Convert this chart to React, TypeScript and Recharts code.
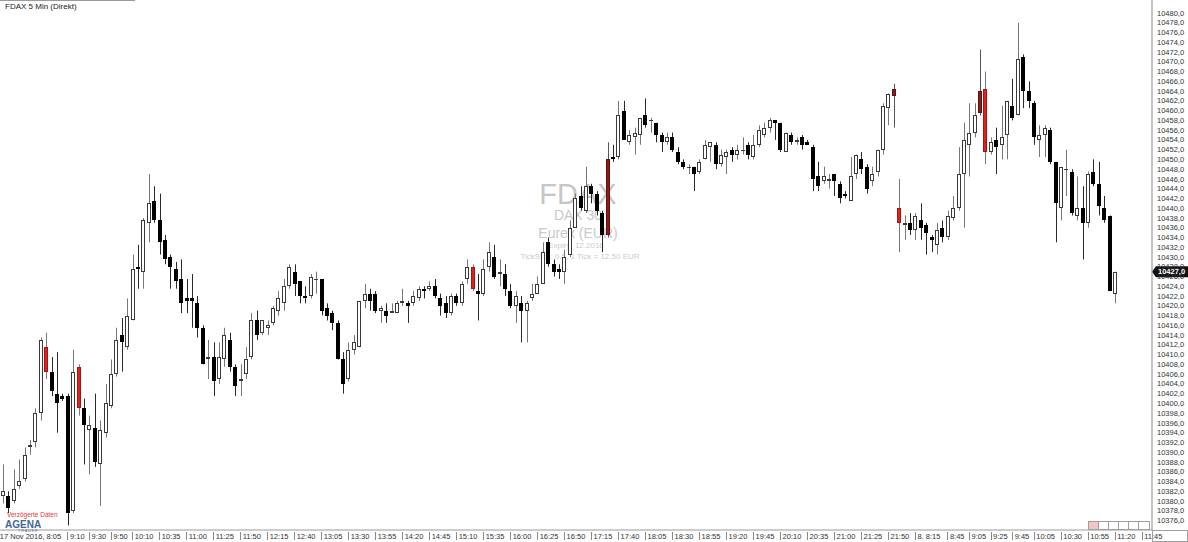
import React from "react";
import { Bar, ComposedChart, ReferenceLine, XAxis, YAxis } from "recharts";

// FDAX 5-minute candles, 17/18 Nov 2016 (slot 1 = 8:10)
const opens = [
  10381, 10381, 10380, 10383, 10384.5, 10391, 10392, 10398, 10411.5, 10406.5,
  10402, 10401.5, 10401.5, 10378, 10407.5, 10399, 10394.5, 10395, 10387.5, 10394,
  10399.5, 10406, 10414, 10411.5, 10417, 10428, 10427, 10437, 10441.5, 10437.5,
  10433.5, 10430, 10427.5, 10425.5, 10421.5, 10421.5, 10420.5, 10415.5, 10409, 10409.5,
  10405, 10409, 10413, 10407.5, 10404.5, 10406, 10409.5, 10417, 10414.5, 10415.5,
  10416.5, 10419, 10420.5, 10424, 10427, 10425, 10422, 10422, 10425.5, 10425.5,
  10419.5, 10418.5, 10416.5, 10409, 10405, 10411, 10411.5, 10421, 10422.5, 10422.5,
  10419, 10419, 10418.5, 10418.5, 10420.5, 10420.5, 10420.5, 10421.5, 10423.5, 10423.5,
  10424, 10421.5, 10420.5, 10418.5, 10422, 10420.5, 10425.5, 10428, 10423, 10422.5,
  10428, 10430, 10426.5, 10426.5, 10423, 10420, 10420.5, 10419, 10421.5, 10422.5,
  10424.5, 10433, 10428.5, 10427.5, 10427, 10430.5, 10436, 10442.5, 10439.5, 10444.5,
  10443, 10439, 10450, 10450.5, 10450.5, 10460, 10453.5, 10454.5, 10455, 10459,
  10458, 10457.5, 10455, 10453.5, 10454.5, 10451.5, 10449.5, 10448.5, 10448.5, 10447.5,
  10450, 10452.5, 10453, 10449, 10450.5, 10452, 10451, 10452, 10453, 10450.5,
  10453, 10455, 10456.5, 10458, 10457.5, 10451.5, 10455, 10453.5, 10454.5, 10453.5,
  10452.5, 10446.5, 10445.5, 10445.5, 10447, 10445, 10443, 10441.5, 10447, 10450,
  10448.5, 10445.5, 10447.5, 10452, 10460.5, 10464.5, 10440, 10436.5, 10437, 10435.5,
  10437.5, 10436.5, 10434, 10432.5, 10436, 10434, 10438, 10440, 10447, 10453,
  10455.5, 10464, 10464.5, 10451.5, 10454, 10453, 10455, 10461, 10459, 10471,
  10464, 10461.5, 10454, 10455, 10456, 10449.5, 10440, 10448, 10447.5, 10438.5,
  10440, 10437, 10447.5, 10445, 10440, 10438.5, 10422.5,
];

const highs = [
  10387.5, 10382, 10386.5, 10388.5, 10391, 10392.5, 10399, 10413.5, 10414.5, 10409.5,
  10410.5, 10402, 10402, 10411, 10408, 10401, 10397.5, 10402, 10396.5, 10404,
  10409, 10415.5, 10417.5, 10421.5, 10430.5, 10432.5, 10438, 10447, 10444.5, 10443,
  10434.5, 10430.5, 10429, 10429.5, 10425.5, 10426.5, 10422, 10416, 10413, 10412.5,
  10412.5, 10415.5, 10414.5, 10408, 10408, 10411.5, 10418.5, 10419, 10417, 10417,
  10420, 10423, 10425.5, 10428.5, 10428.5, 10425, 10424, 10426.5, 10427, 10425.5,
  10420.5, 10419, 10417, 10410.5, 10412.5, 10414, 10421, 10424.5, 10423.5, 10423,
  10420, 10420.5, 10420.5, 10421, 10423.5, 10421, 10423, 10424, 10424, 10425,
  10425.5, 10422.5, 10422, 10422.5, 10422.5, 10425, 10429.5, 10428.5, 10426.5, 10429.5,
  10433, 10432.5, 10429.5, 10428.5, 10424.5, 10423, 10422, 10421, 10424.5, 10426,
  10433, 10434, 10429.5, 10428.5, 10431.5, 10437.5, 10443, 10444.5, 10448.5, 10445,
  10443.5, 10439.5, 10453.5, 10453, 10462, 10462, 10456, 10456.5, 10458.5, 10462.5,
  10458.5, 10457.5, 10455.5, 10455.5, 10455.5, 10452.5, 10450, 10449, 10448.5, 10450,
  10454, 10453.5, 10453.5, 10452, 10452, 10452.5, 10453, 10454.5, 10453.5, 10455,
  10457, 10457.5, 10458.5, 10458, 10457.5, 10455.5, 10455.5, 10454.5, 10455, 10454,
  10453, 10449.5, 10448.5, 10447, 10447, 10445.5, 10443.5, 10450.5, 10451, 10451.5,
  10449, 10448.5, 10452, 10461.5, 10463.5, 10465.5, 10446, 10438.5, 10439, 10439,
  10441, 10437, 10434.5, 10437, 10437.5, 10439.5, 10442.5, 10452.5, 10457.5, 10461.5,
  10461.5, 10472.5, 10468, 10454.5, 10456.5, 10461, 10462, 10466.5, 10478, 10471.5,
  10466, 10462, 10457, 10457, 10456.5, 10449.5, 10448.5, 10452, 10448, 10446.5,
  10444.5, 10447.5, 10450, 10449.5, 10442.5, 10438.5, 10427,
];

const lows = [
  10379.5, 10377.5, 10379.5, 10382.5, 10384, 10389.5, 10391, 10396.5, 10405, 10401.5,
  10394, 10400.5, 10375, 10377.5, 10397.5, 10387.5, 10385.5, 10387, 10379, 10393,
  10399, 10405.5, 10406.5, 10411, 10417, 10423.5, 10423.5, 10433, 10437, 10430.5,
  10428.5, 10423.5, 10423.5, 10418.5, 10418.5, 10415.5, 10413.5, 10408, 10405, 10401.5,
  10404, 10407.5, 10406.5, 10401.5, 10401.5, 10405, 10409, 10413, 10414, 10414,
  10416, 10418, 10419, 10423.5, 10422, 10420.5, 10420.5, 10421.5, 10422.5, 10418,
  10417, 10415, 10409, 10402, 10404.5, 10410, 10411.5, 10419.5, 10419, 10418.5,
  10416.5, 10416.5, 10418.5, 10418.5, 10420, 10416.5, 10420, 10421, 10421.5, 10423,
  10421.5, 10418, 10417.5, 10418, 10420, 10420, 10424.5, 10423, 10417, 10422,
  10427, 10425.5, 10424, 10422, 10419.5, 10416.5, 10412.5, 10412.5, 10421, 10422.5,
  10424.5, 10428, 10426, 10425.5, 10424.5, 10430, 10436, 10439.5, 10439, 10441,
  10438.5, 10431, 10434, 10449.5, 10450, 10454, 10453, 10451, 10453, 10456.5,
  10455.5, 10453.5, 10451.5, 10453, 10451.5, 10449, 10448, 10447, 10443.5, 10447,
  10450, 10449.5, 10448, 10448.5, 10447, 10449.5, 10450, 10451, 10450, 10450,
  10452.5, 10454.5, 10455.5, 10454, 10451.5, 10451.5, 10453, 10453, 10452, 10453,
  10443.5, 10443.5, 10445, 10444, 10442.5, 10441, 10442, 10441.5, 10446, 10447,
  10443, 10444.5, 10446.5, 10451, 10457, 10456.5, 10431, 10433.5, 10434.5, 10433.5,
  10433.5, 10430.5, 10431, 10430.5, 10433, 10433.5, 10437.5, 10439.5, 10436, 10446.5,
  10454.5, 10459, 10449, 10451, 10447, 10450, 10450, 10458, 10459, 10460.5,
  10460.5, 10453, 10450.5, 10450.5, 10449, 10433, 10437.5, 10442.5, 10438.5, 10437.5,
  10429.5, 10436, 10444.5, 10438.5, 10437, 10423, 10420.5,
];

const closes = [
  10382, 10378.5, 10382.5, 10384, 10389.5, 10391.5, 10398, 10413, 10406.5, 10402.5,
  10400, 10401, 10377.5, 10406.5, 10399, 10395.5, 10395.5, 10388, 10394.5, 10400,
  10406, 10413, 10412.5, 10418, 10427.5, 10427.5, 10437.5, 10441, 10437.5, 10433,
  10429.5, 10428, 10425, 10420.5, 10421, 10421, 10415.5, 10408, 10409.5, 10404.5,
  10409.5, 10414, 10407.5, 10403.5, 10405, 10409, 10417, 10414, 10417, 10416,
  10419.5, 10421.5, 10424, 10428, 10424.5, 10422, 10421.5, 10426, 10425.5, 10419,
  10418, 10416.5, 10409, 10404, 10411, 10412.5, 10421, 10422.5, 10421, 10419,
  10419.5, 10418, 10419, 10420.5, 10421, 10420, 10422, 10423.5, 10423, 10424,
  10422, 10420, 10418.5, 10422, 10420.5, 10424.5, 10428, 10423.5, 10422.5, 10427.5,
  10431, 10426, 10427, 10423.5, 10420, 10422, 10419, 10420.5, 10422.5, 10424.5,
  10431, 10428.5, 10427, 10427, 10430, 10436, 10442, 10440, 10444.5, 10443,
  10439.5, 10434.5, 10434.5, 10450, 10459, 10454, 10455, 10455.5, 10458.5, 10457,
  10458, 10455, 10453.5, 10454.5, 10452, 10449.5, 10448.5, 10448.5, 10447, 10449.5,
  10453, 10453.5, 10449, 10451, 10451.5, 10451, 10452, 10452, 10451, 10453,
  10456, 10456.5, 10458, 10457.5, 10452, 10455.5, 10453.5, 10454, 10453, 10453,
  10446, 10444.5, 10446.5, 10446, 10445.5, 10442, 10442.5, 10446.5, 10451, 10448,
  10444, 10447, 10452, 10461, 10463.5, 10463, 10437, 10437, 10435.5, 10438.5,
  10436, 10435, 10433.5, 10435.5, 10434, 10438.5, 10440, 10447, 10454, 10455.5,
  10459, 10459.5, 10451.5, 10453.5, 10452.5, 10454.5, 10462, 10458.5, 10470.5, 10464,
  10462, 10454.5, 10455, 10456.5, 10449.5, 10441, 10448.5, 10448, 10439, 10440,
  10437, 10447, 10445, 10440.5, 10437.5, 10423, 10427,
];

// bars the platform paints as signals
const redBars = [9, 15, 88, 167, 183];
const darkRedBars = [113, 166, 182];

const priceTicks = [
  10376, 10378, 10380, 10382, 10384, 10386, 10388, 10390, 10392, 10394, 10396,
  10398, 10400, 10402, 10404, 10406, 10408, 10410, 10412, 10414, 10416, 10418,
  10420, 10422, 10424, 10426, 10428, 10430, 10432, 10434, 10436, 10438, 10440,
  10442, 10444, 10446, 10448, 10450, 10452, 10454, 10456, 10458, 10460, 10462,
  10464, 10466, 10468, 10470, 10472, 10474, 10476, 10478, 10480,
];

const tickSlots = [
  0, 13, 17, 21, 25, 30, 35, 40, 45, 50, 55, 60, 65, 70, 75, 80, 85, 90, 95, 100,
  105, 110, 115, 120, 125, 130, 135, 140, 145, 150, 155, 160, 165, 170, 176, 180,
  184, 188, 192, 197, 202, 207, 212,
];
const tickLabels = [
  "17 Nov 2016, 8:05", "9:10", "9:30", "9:50", "10:10", "10:35", "11:00", "11:25",
  "11:50", "12:15", "12:40", "13:05", "13:30", "13:55", "14:20", "14:45", "15:10",
  "15:35", "16:00", "16:25", "16:50", "17:15", "17:40", "18:05", "18:30", "18:55",
  "19:20", "19:45", "20:10", "20:35", "21:00", "21:25", "21:50", "8. 8:15", "8:45",
  "9:05", "9:25", "9:45", "10:05", "10:30", "10:55", "11:20", "11:45",
];

const lastPrice = 10427;

const FONT = '"Liberation Sans", Arial, sans-serif';

type Tone = "up" | "down" | "red" | "darkred";

type Candle = {
  slot: number;
  open: number;
  high: number;
  low: number;
  close: number;
  range: [number, number];
  tone: Tone;
};

const candles: Candle[] = opens.map((open, i) => {
  const slot = i + 1;
  const close = closes[i];
  let tone: Tone = close >= open ? "up" : "down";
  if (redBars.includes(slot)) tone = "red";
  if (darkRedBars.includes(slot)) tone = "darkred";
  return {
    slot,
    open,
    high: highs[i],
    low: lows[i],
    close,
    range: [lows[i], highs[i]],
    tone,
  };
});

const toneStyle: Record<Tone, { fill: string; stroke: string; wick: string }> = {
  up: { fill: "#ffffff", stroke: "#3a3a3a", wick: "#777777" },
  down: { fill: "#000000", stroke: "#000000", wick: "#2a2a2a" },
  red: { fill: "#e3211b", stroke: "#a51410", wick: "#777777" },
  darkred: { fill: "#8c1a1a", stroke: "#641010", wick: "#555555" },
};

function CandleShape(props: any) {
  const { x, y, width, height, payload } = props;
  if (!payload || x == null || y == null) return null;
  const top = Math.min(y, y + height);
  const bottom = Math.max(y, y + height);
  const span = payload.high - payload.low || 1;
  const toY = (v: number) => top + ((payload.high - v) / span) * (bottom - top);
  const cx = Math.round(x + width / 2);
  const s = toneStyle[payload.tone as Tone];
  const bTop = Math.round(toY(Math.max(payload.open, payload.close)));
  const bBot = Math.max(bTop + 1, Math.round(toY(Math.min(payload.open, payload.close))));
  return (
    <g>
      <line x1={cx + 0.5} x2={cx + 0.5} y1={top} y2={bottom} stroke={s.wick} strokeWidth={1} />
      <rect
        x={cx - 1.5}
        y={bTop + 0.5}
        width={3}
        height={Math.max(bBot - bTop - 1, 0.01)}
        fill={s.fill}
        stroke={s.stroke}
        strokeWidth={1}
      />
    </g>
  );
}

function TimeTick(props: any) {
  const { x, y, payload } = props;
  const label = tickLabels[tickSlots.indexOf(payload.value)];
  return (
    <g>
      <line x1={Math.round(x) + 0.5} x2={Math.round(x) + 0.5} y1={y + 2} y2={y + 10} stroke="#8a8a8a" />
      <text x={x + 2.5} y={y + 9} fontSize={7.5} fill="#333" fontFamily={FONT} textAnchor="start">
        {label}
      </text>
    </g>
  );
}

function PriceTick(props: any) {
  const { x, y, payload } = props;
  return (
    <text x={x + 5} y={y + 2.6} fontSize={7.5} fill="#333" fontFamily={FONT} textAnchor="start">
      {`${payload.value},0`}
    </text>
  );
}

function PriceTag(props: any) {
  const vb = props.viewBox;
  if (!vb) return null;
  const x0 = vb.x + vb.width;
  const y = vb.y;
  return (
    <g>
      <polygon
        points={`${x0},${y} ${x0 + 4},${y - 5.5} ${x0 + 36},${y - 5.5} ${x0 + 36},${y + 5.5} ${x0 + 4},${y + 5.5}`}
        fill="#111"
      />
      <text x={x0 + 6} y={y + 2.8} fontSize={7.5} fontWeight="bold" fill="#fff" fontFamily={FONT}>
        {`${lastPrice},0`}
      </text>
    </g>
  );
}

export default function App() {
  return (
    <div
      style={{
        position: "absolute",
        left: 0,
        top: 0,
        width: 1188,
        height: 542,
        background: "#fff",
        overflow: "hidden",
        fontFamily: FONT,
      }}
    >
      <svg width={1188} height={542} style={{ position: "absolute", left: 0, top: 0 }}>
        <text x={578} y={204} fontSize={29} fill="#c6c6c6" textAnchor="middle" fontFamily={FONT}>
          FDAX
        </text>
        <text x={578} y={220} fontSize={14} fill="#c9c9c9" textAnchor="middle" fontFamily={FONT}>
          DAX 30
        </text>
        <text x={578} y={238} fontSize={14} fill="#c9c9c9" textAnchor="middle" fontFamily={FONT}>
          Eurex (EUR)
        </text>
        <text x={576} y={248} fontSize={8} fill="#cccccc" textAnchor="middle" fontFamily={FONT}>
          Expiry: 12.2016
        </text>
        <text x={580} y={258.5} fontSize={8} fill="#cccccc" textAnchor="middle" fontFamily={FONT}>
          TickSize: 0.5, 1 Tick = 12.50 EUR
        </text>
      </svg>

      <div style={{ position: "absolute", left: 0, top: 0 }}>
        <ComposedChart
          width={1188}
          height={542}
          data={candles}
          margin={{ top: 0, right: 0, bottom: 0, left: 0 }}
        >
          <XAxis
            type="number"
            dataKey="slot"
            domain={[0.5, 213.9]}
            allowDataOverflow
            ticks={tickSlots}
            interval={0}
            height={12}
            tickSize={0}
            tickMargin={0}
            tickLine={false}
            axisLine={{ stroke: "#9a9a9a" }}
            tick={<TimeTick />}
          />
          <YAxis
            type="number"
            orientation="right"
            domain={[10374.06, 10482.66]}
            allowDataOverflow
            ticks={priceTicks}
            interval={0}
            width={36}
            tickSize={0}
            tickMargin={0}
            tickLine={false}
            axisLine={{ stroke: "#8a8a8a" }}
            tick={<PriceTick />}
          />
          <Bar dataKey="range" barSize={4} shape={<CandleShape />} isAnimationActive={false} />
          <ReferenceLine y={lastPrice} stroke="none" label={<PriceTag />} />
        </ComposedChart>
      </div>

      <svg width={1188} height={542} style={{ position: "absolute", left: 0, top: 0, pointerEvents: "none" }}>
        <line x1={0} x2={135} y1={0.5} y2={0.5} stroke="#9a9a9a" />
        <text x={5} y={9} fontSize={8} fill="#222" fontFamily={FONT}>
          FDAX 5 Min (Direkt)
        </text>
        <text x={7} y={517} fontSize={6.5} fill="#e03a3a" fontFamily={FONT}>
          Verzögerte Daten
        </text>
        <text x={5} y={527.5} fontSize={10} fontWeight="bold" fill="#46669a" fontFamily={FONT}>
          AGENA
        </text>
        <text x={18} y={531.5} fontSize={3.5} fill="#46669a" fontFamily={FONT} letterSpacing={1}>
          TRADER
        </text>
        <rect x={1088.5} y={521.5} width={61} height={8} fill="#fff" stroke="#a0a0a0" />
        <rect x={1089} y={522} width={9} height={7} fill="#f4c4c4" />
        {[1098.5, 1108.5, 1118.5, 1128.5, 1138.5].map((lx) => (
          <line key={lx} x1={lx} x2={lx} y1={521.5} y2={529.5} stroke="#a0a0a0" />
        ))}
        <rect x={1152.5} y={530.5} width={35} height={11} fill="none" stroke="#a0a0a0" />
      </svg>
    </div>
  );
}
